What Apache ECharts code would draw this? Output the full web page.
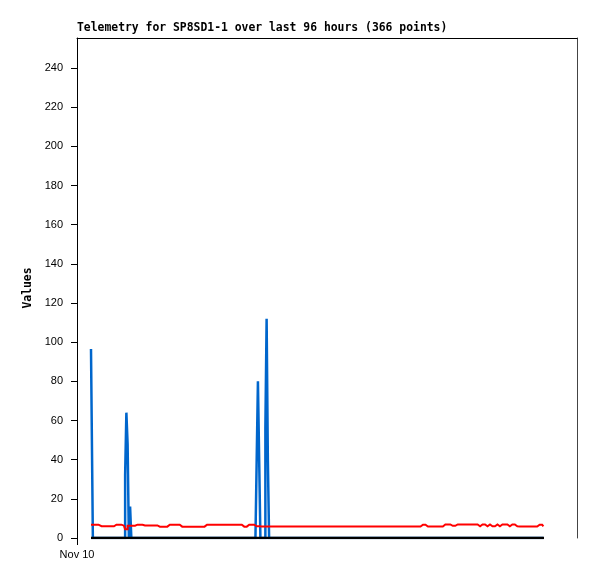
<!DOCTYPE html>
<html><head><meta charset="utf-8">
<script src="https://cdn.jsdelivr.net/npm/echarts@6/dist/echarts.min.js"></script>
<style>html,body{margin:0;padding:0;background:#fff}#c{width:597px;height:579px}</style>
</head><body><div id="c"></div>
<script>
const chartTitle = 'Telemetry for SP8SD1-1 over last 96 hours (366 points)';
const yAxisName = 'Values';
const yTicks = [0, 20, 40, 60, 80, 100, 120, 140, 160, 180, 200, 220, 240];
const xTickLabel = 'Nov 10';
// series stored as runs: [value, number of consecutive points]
const blueRuns = [[96.5,2],[0,26],[32,1],[64,1],[48,1],[0,1],[16,1],[0,101],[40,1],[80,1],[40,1],[0,4],[56,1],[112,1],[40,1],[0,222]];
const redRuns = [[6.8,7],[6.0,13],[6.8,6],[6.3,2],[4.5,2],[6.3,7],[6.8,6],[6.4,11],[5.8,8],[6.8,11],[5.8,20],[6.8,30],[5.8,3],[6.8,7],[6.0,3],[5.9,131],[6.8,3],[5.9,14],[6.9,6],[6.2,4],[6.9,19],
  [6.0,2],[6.9,3],[6.0,2],[6.9,3],[6.0,3],[6.9,3],[6.0,2],[6.9,5],[6.0,3],[6.9,3],[6.0,3],[5.9,16],[6.8,3],[5.9,2]];
const blackRuns = [[0,366]];

function expand(runs){const out=[];runs.forEach(([v,n])=>{for(let k=0;k<n;k++)out.push(v);});return out;}
function toPairs(arr){return arr.map((v,i)=>[i,v]);}
const blue = expand(blueRuns), red = expand(redRuns), black = expand(blackRuns);

const xMin = -11.28, xMax = 391.59, yMin = 0, yMax = 255.3;
const sans = 'Liberation Sans', mono = 'DejaVu Sans Mono';
const chart = echarts.init(document.getElementById('c'), null, {renderer:'canvas'});
chart.setOption({
  animation:false,
  backgroundColor:'#fff',
  title:{text:chartTitle,left:77,top:23,padding:0,textStyle:{fontFamily:mono,fontWeight:'bold',fontSize:11.4,color:'#000'}},
  grid:{left:77,right:20,top:38,bottom:41,containLabel:false,outerBoundsMode:'none'},
  xAxis:[{
    type:'value',min:xMin,max:xMax,position:'bottom',
    axisLine:{show:false,onZero:false},
    axisTick:{show:true,length:7,inside:false,customValues:[xMin],lineStyle:{color:'#000'}},
    axisLabel:{show:true,customValues:[xMin],formatter:()=>xTickLabel,margin:11,fontFamily:sans,fontSize:11,color:'#000',showMinLabel:true},
    splitLine:{show:false}
  },{
    type:'value',min:xMin,max:xMax,position:'top',
    axisLine:{show:true,onZero:false,lineStyle:{color:'#000',width:1}},
    axisTick:{show:false},axisLabel:{show:false},splitLine:{show:false}
  }],
  yAxis:[{
    type:'value',min:yMin,max:yMax,position:'left',
    name:yAxisName,nameLocation:'middle',nameGap:39,nameRotate:90,
    nameTextStyle:{fontFamily:mono,fontWeight:'bold',fontSize:11.4,color:'#000'},
    axisLine:{show:true,onZero:false,lineStyle:{color:'#000',width:1}},
    axisTick:{show:true,length:6,customValues:yTicks,lineStyle:{color:'#000'}},
    axisLabel:{show:true,customValues:yTicks,margin:14,fontFamily:sans,fontSize:11,color:'#000'},
    splitLine:{show:false}
  },{
    type:'value',min:yMin,max:yMax,position:'right',
    axisLine:{show:true,onZero:false,lineStyle:{color:'#444',width:1}},
    axisTick:{show:false},axisLabel:{show:false},splitLine:{show:false}
  }],
  series:[
    {type:'line',data:toPairs(blue),xAxisIndex:0,yAxisIndex:0,step:'middle',showSymbol:false,symbol:'none',lineStyle:{color:'#0066cc',width:2.5,join:'miter',cap:'butt'},z:2},
    {type:'line',data:toPairs(red),xAxisIndex:0,yAxisIndex:0,step:'middle',showSymbol:false,symbol:'none',lineStyle:{color:'#ff0000',width:2,join:'miter'},z:3},
    {type:'line',data:toPairs(black),xAxisIndex:0,yAxisIndex:0,showSymbol:false,symbol:'none',lineStyle:{color:'#000',width:2.5},z:4}
  ]
});
</script></body></html>
